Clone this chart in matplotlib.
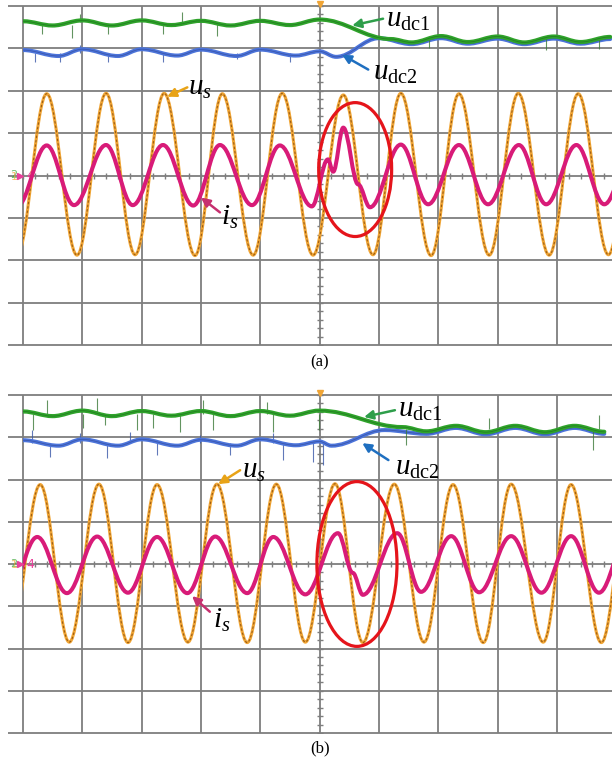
import numpy as np
import matplotlib
matplotlib.use("Agg")
import matplotlib.pyplot as plt
from matplotlib.path import Path
from matplotlib.patches import PathPatch, Ellipse, Rectangle

plt.rcParams["mathtext.fontset"] = "custom"
plt.rcParams["mathtext.it"] = "Liberation Serif:italic"
plt.rcParams["mathtext.rm"] = "Liberation Serif"

# ---- scope readings, in divisions (x: time div, y: vertical div) ----
# panel (a)
us_a_t = [-0.10, 0.40, 0.91, 1.40, 1.89, 2.38, 2.90, 3.36, 3.88, 4.37, 4.89,
          5.40, 5.90, 6.37, 6.88, 7.35, 7.86, 8.35, 8.87, 9.36, 9.87, 10.35]
us_a_v = [-1.88, 1.93, -1.88, 1.94, -1.87, 1.94, -1.89, 1.93, -1.88, 1.94, -1.88,
          1.90, -1.87, 1.94, -1.89, 1.93, -1.88, 1.94, -1.88, 1.93, -1.87, 1.93]
is_a_t = [-0.10, 0.40, 0.86, 1.40, 1.85, 2.36, 2.87, 3.32, 3.86, 4.33, 4.87,
          5.14, 5.23, 5.40, 5.65, 5.85, 6.37, 6.83, 7.35, 7.84, 8.36, 8.82,
          9.33, 9.80, 10.30]
is_a_v = [-0.73, 0.71, -0.70, 0.72, -0.70, 0.72, -0.71, 0.72, -0.70, 0.71, -0.73,
          0.38, 0.09, 1.13, -0.21, -0.75, 0.73, -0.68, 0.72, -0.68, 0.72, -0.68,
          0.72, -0.68, 0.72]
udc1_a_t = [0.0, 0.5, 1.0, 1.5, 2.0, 2.5, 3.0, 3.5, 4.0, 4.5, 5.0, 6.2, 6.55,
            7.05, 7.5, 8.0, 8.45, 8.95, 9.4, 9.9]
udc1_a_v = [3.64, 3.54, 3.66, 3.54, 3.66, 3.55, 3.65, 3.54, 3.65, 3.55, 3.68,
            3.22, 3.14, 3.29, 3.15, 3.28, 3.14, 3.28, 3.15, 3.27]
udc2_a_t = [0.0, 0.6, 1.0, 1.6, 2.0, 2.6, 3.0, 3.6, 4.0, 4.6, 5.0, 5.28, 6.0,
            6.55, 7.05, 7.5, 8.0, 8.45, 8.95, 9.4, 9.9]
udc2_a_v = [2.96, 2.82, 2.98, 2.82, 2.98, 2.83, 2.97, 2.82, 2.97, 2.83, 2.93,
            2.80, 3.24, 3.10, 3.24, 3.11, 3.23, 3.10, 3.23, 3.11, 3.22]
g_spk_a_x = [0.32, 0.83, 0.96, 1.43, 2.36, 2.68, 3.27, 6.85, 8.82, 9.71]
g_spk_a_lo = [3.33, 3.25, 3.62, 3.33, 3.33, 3.62, 3.30, 3.02, 2.97, 2.99]
g_spk_a_hi = [3.58, 3.56, 3.80, 3.58, 3.58, 3.87, 3.58, 3.25, 3.25, 3.25]
b_spk_a_x = [0.20, 0.62, 0.96, 1.43, 2.36, 3.60, 4.50]
b_spk_a_lo = [2.67, 2.69, 2.90, 2.67, 2.69, 2.74, 2.69]
b_spk_a_hi = [2.90, 2.90, 3.09, 2.90, 2.90, 2.90, 2.90]

# panel (b)
us_b_t = [-0.22, 0.29, 0.78, 1.28, 1.77, 2.26, 2.78, 3.27, 3.78, 4.27, 4.76,
          5.26, 5.73, 6.26, 6.76, 7.25, 7.76, 8.23, 8.77, 9.24, 9.75, 10.24]
us_b_v = [-1.85, 1.88, -1.85, 1.89, -1.86, 1.88, -1.85, 1.89, -1.86, 1.89, -1.85,
          1.90, -1.86, 1.89, -1.85, 1.88, -1.86, 1.89, -1.85, 1.88, -1.86, 1.88]
is_b_t = [-0.25, 0.24, 0.74, 1.25, 1.77, 2.26, 2.77, 3.24, 3.78, 4.22, 4.76,
          5.31, 5.56, 5.73, 6.31, 6.71, 7.22, 7.69, 8.23, 8.74, 9.24, 9.71, 10.2]
is_b_v = [-0.69, 0.64, -0.69, 0.65, -0.68, 0.64, -0.69, 0.65, -0.69, 0.64, -0.72,
          0.73, -0.21, -0.73, 0.73, -0.66, 0.66, -0.67, 0.66, -0.68, 0.66, -0.68,
          0.66]
udc1_b_t = [0.0, 0.5, 1.0, 1.5, 2.0, 2.5, 3.0, 3.5, 4.0, 4.5, 5.0, 6.4, 6.8,
            7.3, 7.8, 8.3, 8.8, 9.3, 9.8]
udc1_b_v = [3.61, 3.50, 3.63, 3.50, 3.62, 3.51, 3.62, 3.50, 3.62, 3.51, 3.63,
            3.24, 3.14, 3.27, 3.12, 3.27, 3.12, 3.27, 3.13]
udc2_b_t = [0.0, 0.6, 1.0, 1.6, 2.0, 2.6, 3.0, 3.6, 4.0, 4.6, 5.0, 5.2, 6.1,
            6.8, 7.3, 7.8, 8.3, 8.8, 9.3, 9.8]
udc2_b_v = [2.93, 2.80, 2.95, 2.80, 2.95, 2.80, 2.94, 2.80, 2.95, 2.81, 2.90,
            2.80, 3.17, 3.08, 3.22, 3.07, 3.22, 3.07, 3.22, 3.08]
g_spk_b_x = [0.17, 0.40, 1.01, 1.25, 1.38, 1.92, 2.19, 2.65, 3.04, 3.20, 4.11,
             4.22, 4.99, 6.46, 7.86, 9.61, 9.71]
g_spk_b_lo = [3.17, 3.56, 3.22, 3.56, 3.29, 3.17, 3.22, 3.12, 3.56, 3.17, 3.56,
              3.12, 3.17, 2.81, 3.20, 2.70, 3.20]
g_spk_b_hi = [3.56, 3.88, 3.56, 3.92, 3.56, 3.56, 3.56, 3.56, 3.88, 3.56, 3.83,
              3.56, 3.56, 3.20, 3.45, 3.20, 3.52]
b_spk_b_x = [0.15, 0.46, 0.96, 1.42, 1.80, 2.26, 2.98, 3.49, 4.22, 4.38, 4.89, 5.06]
b_spk_b_lo = [2.87, 2.53, 2.87, 2.51, 2.87, 2.58, 2.87, 2.58, 2.87, 2.46, 2.41, 2.34]
b_spk_b_hi = [3.17, 2.87, 3.10, 2.87, 3.12, 2.87, 3.05, 2.87, 3.10, 2.87, 2.87, 2.87]

ORANGE = "#F0A535"
ORANGE_DK = "#9A5C14"
PINK = "#D81B78"
GREEN = "#2FA32B"
BLUE = "#4C74DA"
GRID = "#7E7E7E"


def wave(t, v, k=0.364):
    # smooth curve through the read extrema (flat tangent at each point)
    verts = [(t[0], v[0])]
    codes = [Path.MOVETO]
    for i in range(1, len(t)):
        dt = t[i] - t[i - 1]
        verts += [(t[i - 1] + k * dt, v[i - 1]), (t[i] - k * dt, v[i]), (t[i], v[i])]
        codes += [Path.CURVE4] * 3
    return Path(verts, codes)


def trace(ax, t, v, color, lw, z, **kw):
    p = PathPatch(wave(t, v), fill=False, edgecolor=color, lw=lw, zorder=z,
                  capstyle="round", joinstyle="round", **kw)
    ax.add_patch(p)
    p.set_clip_path(Rectangle((0, -4.5), 10, 9, transform=ax.transData))


def panel(ax, us_t, us_v, is_t, is_v, d1_t, d1_v, d2_t, d2_v,
          gx, glo, ghi, bx, blo, bhi):
    ax.set_xlim(-0.253, 9.93)
    ax.set_ylim(-4, 4)
    ax.axis("off")

    ax.vlines(range(0, 10), -4, 4, color=GRID, lw=1.3, zorder=1, clip_on=False)
    ax.hlines(range(-4, 5), -0.253, 9.93, color=GRID, lw=1.3, zorder=1, clip_on=False)
    ax.plot(np.full(41, 5.0), np.linspace(-4, 4, 41), ls="none", marker="_",
            ms=5, mew=1, color=GRID, zorder=1)
    ax.plot(np.linspace(0, 10, 51), np.zeros(51), ls="none", marker="|",
            ms=5, mew=1, color=GRID, zorder=1)

    # dc links
    ax.vlines(bx, blo, bhi, color="#3A58A8", lw=0.8, alpha=0.8, zorder=3)
    trace(ax, d2_t, d2_v, BLUE, 2.9, 3)
    trace(ax, d2_t, d2_v, "#2F4590", 0.6, 3.1, alpha=0.6)
    ax.vlines(gx, glo, ghi, color="#3C7A38", lw=0.8, alpha=0.8, zorder=4)
    trace(ax, d1_t, d1_v, GREEN, 3.0, 4)
    trace(ax, d1_t, d1_v, "#1C6A1C", 0.6, 4.1, alpha=0.6)

    # ac voltage / current
    trace(ax, us_t, us_v, ORANGE, 2.2, 5)
    trace(ax, us_t, us_v, ORANGE_DK, 0.8, 5.1, linestyle=(0, (1.5, 2.5)))
    trace(ax, is_t, is_v, PINK, 2.9, 6)

    # channel marker
    ax.text(-0.22, 0.0, "2", color=GREEN, fontsize=8, va="center", alpha=0.7)
    ax.text(-0.2, -0.03, "1", color=ORANGE, fontsize=8, va="center", alpha=0.7)
    ax.plot([-0.05], [0.0], marker=">", ms=4, color="#E8409A", zorder=7)
    ax.text(0.06, 0.0, "4", color="#E8409A", fontsize=9, va="center")
    ax.plot([5.0], [4.05], marker="v", ms=4, color=ORANGE, clip_on=False)


def label(ax, txt, xy, tail, head, color):
    ax.text(xy[0], xy[1], txt, fontsize=21, ha="left", va="baseline", zorder=10)
    ax.annotate("", xy=head, xytext=tail, zorder=10,
                arrowprops=dict(arrowstyle="-|>", color=color, lw=1.8,
                                mutation_scale=13, shrinkA=0, shrinkB=0))


fig = plt.figure(figsize=(6.12, 7.65), dpi=100)
ax1 = fig.add_axes([8 / 612, 1 - 345 / 765, 604 / 612, 339 / 765])
ax2 = fig.add_axes([8 / 612, 1 - 733 / 765, 604 / 612, 338 / 765])

panel(ax1, us_a_t, us_a_v, is_a_t, is_a_v, udc1_a_t, udc1_a_v, udc2_a_t, udc2_a_v,
      g_spk_a_x, g_spk_a_lo, g_spk_a_hi, b_spk_a_x, b_spk_a_lo, b_spk_a_hi)
panel(ax2, us_b_t, us_b_v, is_b_t, is_b_v, udc1_b_t, udc1_b_v, udc2_b_t, udc2_b_v,
      g_spk_b_x, g_spk_b_lo, g_spk_b_hi, b_spk_b_x, b_spk_b_lo, b_spk_b_hi)

ax1.add_patch(Ellipse((5.60, 0.14), 1.23, 3.16, fill=False, ec="#E5141B", lw=2.3, zorder=9))
ax2.add_patch(Ellipse((5.63, 0.0), 1.35, 3.90, fill=False, ec="#E5141B", lw=2.3, zorder=9))

label(ax1, r"$u_s$", (2.79, 1.91), (2.77, 2.08), (2.43, 1.86), "#E8A317")
label(ax1, r"$i_s$", (3.34, -1.16), (3.32, -0.87), (3.0, -0.52), "#C7306F")
label(ax1, r"$u_{\rm dc1}$", (6.12, 3.51), (6.07, 3.70), (5.55, 3.54), "#2E9E4A")
label(ax1, r"$u_{\rm dc2}$", (5.90, 2.26), (5.82, 2.50), (5.38, 2.85), "#1F6FC0")

label(ax2, r"$u_s$", (3.69, 2.03), (3.66, 2.22), (3.29, 1.89), "#E8A317")
label(ax2, r"$i_s$", (3.20, -1.51), (3.15, -1.13), (2.85, -0.76), "#C7306F")
label(ax2, r"$u_{\rm dc1}$", (6.32, 3.48), (6.27, 3.64), (5.75, 3.48), "#2E9E4A")
label(ax2, r"$u_{\rm dc2}$", (6.27, 2.10), (6.16, 2.46), (5.72, 2.86), "#1F6FC0")

fig.text(320 / 612, 1 - 362 / 765, "(a)", ha="center", va="center",
         fontsize=12, family="Liberation Serif")
fig.text(320 / 612, 1 - 748 / 765, "(b)", ha="center", va="center",
         fontsize=12, family="Liberation Serif")

plt.savefig("out.png", dpi=100)
